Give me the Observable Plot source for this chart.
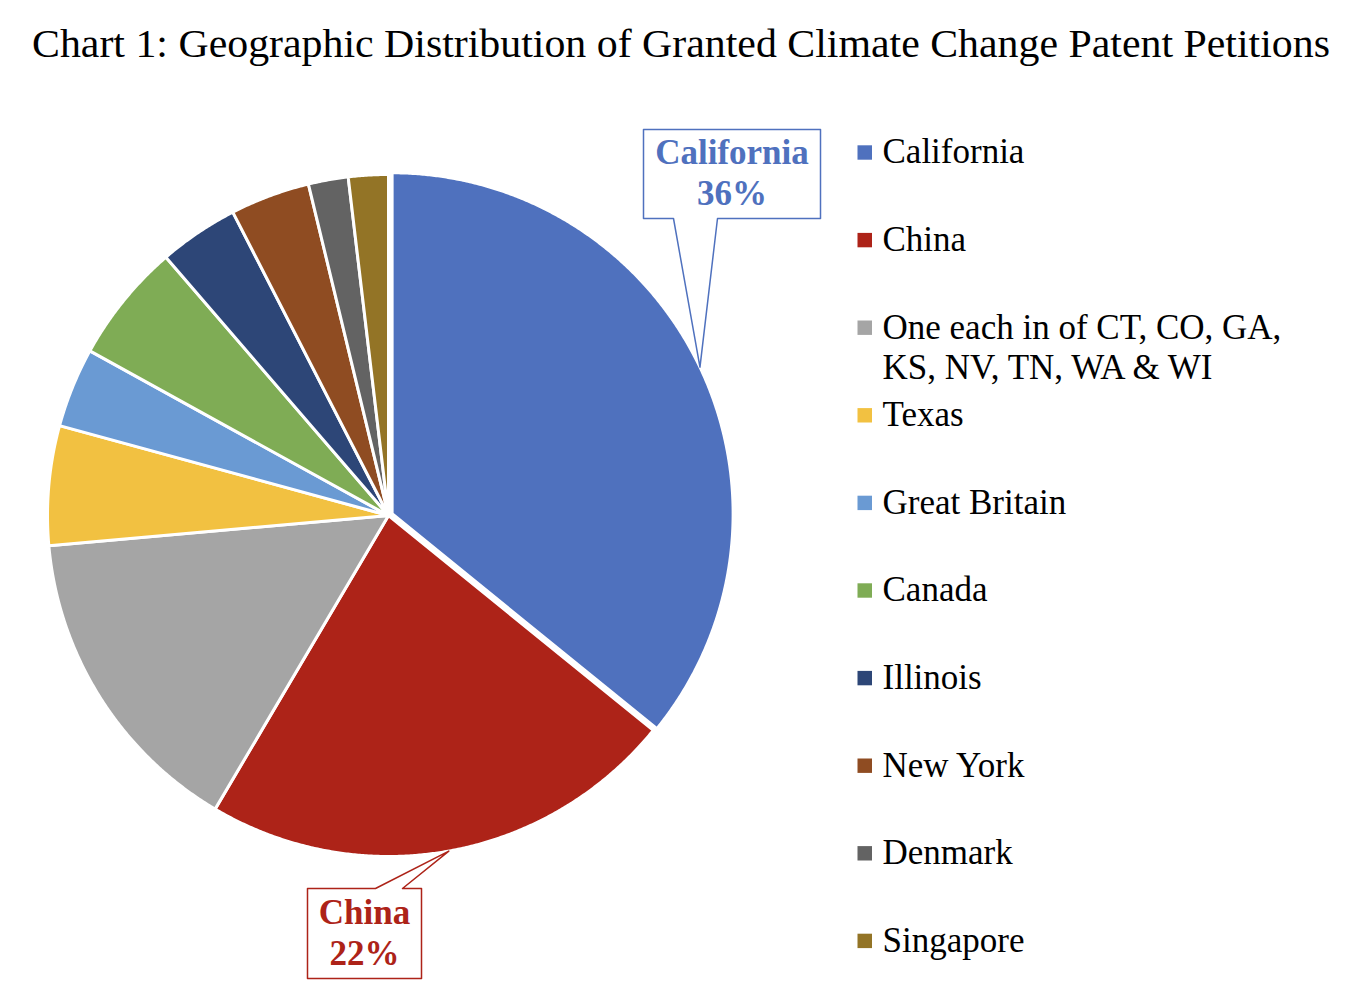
<!DOCTYPE html>
<html>
<head>
<meta charset="utf-8">
<script src="https://cdn.jsdelivr.net/npm/d3@7"></script>
<script src="https://cdn.jsdelivr.net/npm/@observablehq/plot@0.6"></script>
<style>
  html, body { margin: 0; padding: 0; background: #fff; }
  #title { position: relative; height: 90px; width: 1354px; font-family: "Liberation Serif", "Times New Roman", serif; font-size: 41px; line-height: 86px; white-space: nowrap; color: #000; }
  #title span { position: absolute; left: 32px; top: 0; transform-origin: 0 50%; display: inline-block; }
  #chart svg { display: block; }
</style>
</head>
<body>
<div id="title"><span>Chart 1: Geographic Distribution of Granted Climate Change Patent Petitions</span></div>
<div id="chart"></div>
<script>
// ---- data ----
const categories = ["California", "China", "One each in of CT, CO, GA, KS, NV, TN, WA & WI", "Texas", "Great Britain", "Canada", "Illinois", "New York", "Denmark", "Singapore"];
const values = [19, 12, 8, 3, 2, 3, 2, 2, 1, 1];
const colors = ["#4F71BE", "#AD2318", "#A5A5A5", "#F2C141", "#6A9AD3", "#7FAC55", "#2D4677", "#8F4C22", "#636363", "#937426"];
const legendLabels = ["California", "China", "One each in of CT, CO, GA,\nKS, NV, TN, WA & WI", "Texas", "Great Britain", "Canada", "Illinois", "New York", "Denmark", "Singapore"];
const calloutCategories = ["California", "China"];
const calloutLabels = ["California\n36%", "China\n22%"];

// ---- layout ----
const W = 1354, H = 910, TOP = 90;
const cx = 388, cy = 515 - TOP, R = 341, explode = 4;
const serif = "'Liberation Serif', 'Times New Roman', serif";

// fit title width
const tspan = document.querySelector("#title span");
const tw = tspan.getBoundingClientRect().width;
tspan.style.transform = `scaleX(${1298 / tw})`;

const pie = d3.pie().sort(null).value(d => d.value).startAngle(0).endAngle(2 * Math.PI);
const rows = categories.map((c, i) => ({name: c, value: values[i], color: colors[i], legend: legendLabels[i], i}));
const arcs = pie(rows);

function slicePoints(a) {
  const off = a.data.name === "California" ? explode : 0;
  const mid = (a.startAngle + a.endAngle) / 2;
  const ox = cx + off * Math.sin(mid), oy = cy - off * Math.cos(mid);
  const pts = [{x: ox, y: oy}];
  const n = Math.max(2, Math.ceil((a.endAngle - a.startAngle) / 0.005));
  for (let k = 0; k <= n; k++) {
    const t = a.startAngle + (a.endAngle - a.startAngle) * k / n;
    pts.push({x: ox + R * Math.sin(t), y: oy - R * Math.cos(t)});
  }
  return pts;
}

// callout boxes (layout) with pointer to slice bisector on the rim
const boxes = {
  "California": {x1: 643, x2: 820, y1: 129 - TOP, y2: 218 - TOP, side: "bottom", b1: 673, b2: 717, tx: 731.5, ty: 134 - TOP},
  "China": {x1: 307, x2: 421, y1: 888 - TOP, y2: 978 - TOP, side: "top", b1: 375, b2: 402, tx: 364, ty: 894 - TOP}
};
const callouts = calloutCategories.map((name, j) => {
  const a = arcs.find(d => d.data.name === name);
  const mid = (a.startAngle + a.endAngle) / 2;
  const off = name === "California" ? explode : 0;
  const tip = {x: cx + (R + off) * Math.sin(mid), y: cy - (R + off) * Math.cos(mid)};
  const b = boxes[name];
  let pts;
  if (b.side === "bottom") {
    pts = [{x: b.x1, y: b.y1}, {x: b.x2, y: b.y1}, {x: b.x2, y: b.y2}, {x: b.b2, y: b.y2}, tip, {x: b.b1, y: b.y2}, {x: b.x1, y: b.y2}];
  } else {
    pts = [{x: b.x1, y: b.y1}, {x: b.b1, y: b.y1}, tip, {x: b.b2, y: b.y1}, {x: b.x2, y: b.y1}, {x: b.x2, y: b.y2}, {x: b.x1, y: b.y2}];
  }
  return {name, color: a.data.color, pts, label: calloutLabels[j], tx: b.tx, ty: b.ty};
});

const rowY = i => 152.5 + i * 87.6 - TOP;

const marks = [];
for (const a of arcs) {
  marks.push(Plot.line(slicePoints(a), {x: "x", y: "y", curve: "linear-closed", fill: a.data.color, stroke: "white", strokeWidth: 3, strokeLinejoin: "round"}));
}
for (const c of callouts) {
  marks.push(Plot.line(c.pts, {x: "x", y: "y", curve: "linear-closed", fill: "white", stroke: c.color, strokeWidth: 1.5}));
  marks.push(Plot.text([c], {x: "tx", y: "ty", text: "label", fill: c.color, fontSize: 35, fontWeight: "bold", fontFamily: serif, textAnchor: "middle", lineAnchor: "top", lineHeight: 1.17}));
}
marks.push(Plot.rect(rows, {x1: 857.5, x2: 872, y1: d => rowY(d.i) - 7.2, y2: d => rowY(d.i) + 7.2, fill: "color"}));
marks.push(Plot.text(rows, {x: 882, y: d => rowY(d.i) - 18, text: "legend", fill: "black", fontSize: 35, fontFamily: serif, textAnchor: "start", lineAnchor: "top", lineHeight: 40 / 35}));

const chart = Plot.plot({
  width: W, height: H, margin: 0,
  x: {type: "linear", domain: [0, W], range: [0, W], axis: null},
  y: {type: "linear", domain: [0, H], range: [0, H], axis: null},
  color: {type: "identity"},
  style: {background: "white", fontFamily: serif},
  marks
});
document.getElementById("chart").appendChild(chart);
</script>
</body>
</html>
